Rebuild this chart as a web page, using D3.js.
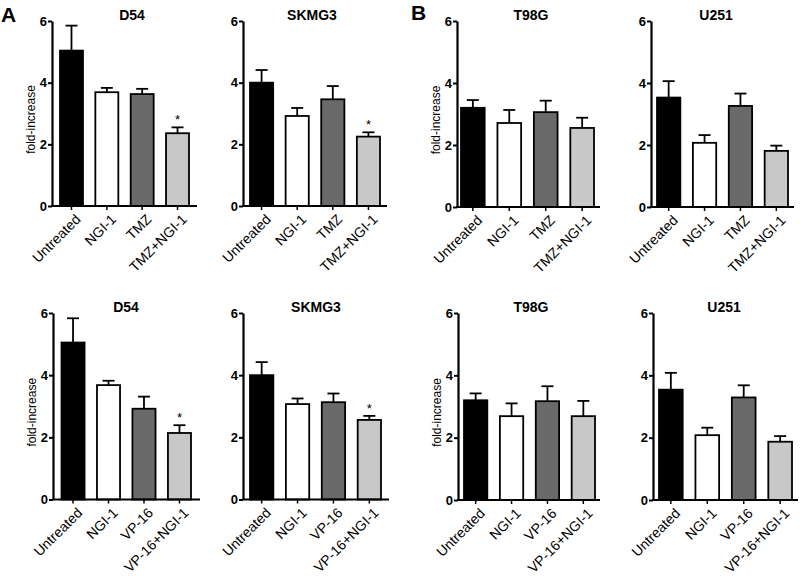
<!DOCTYPE html>
<html><head><meta charset="utf-8">
<script src="https://cdn.jsdelivr.net/npm/d3@7"></script>
<style>
body{margin:0;background:#fff}
text{font-family:"Liberation Sans",Arial,sans-serif}
</style></head>
<body><svg id="c" width="800" height="581"></svg>
<script>
// ---- data ----
const cellLines = ["D54", "SKMG3", "T98G", "U251"];
const categoriesTMZ = ["Untreated", "NGI-1", "TMZ", "TMZ+NGI-1"];
const categoriesVP = ["Untreated", "NGI-1", "VP-16", "VP-16+NGI-1"];
const yTicks = [0, 2, 4, 6];

const d54TMZ = [5.04, 3.69, 3.63, 2.36];
const d54TMZErr = [0.81, 0.14, 0.17, 0.19];
const skmg3TMZ = [4.00, 2.92, 3.46, 2.25];
const skmg3TMZErr = [0.41, 0.26, 0.43, 0.14];
const t98gTMZ = [3.20, 2.71, 3.06, 2.55];
const t98gTMZErr = [0.25, 0.42, 0.37, 0.33];
const u251TMZ = [3.53, 2.07, 3.26, 1.81];
const u251TMZErr = [0.53, 0.25, 0.40, 0.17];

const d54VP = [5.05, 3.68, 2.92, 2.14];
const d54VPErr = [0.78, 0.14, 0.39, 0.25];
const skmg3VP = [4.00, 3.07, 3.13, 2.56];
const skmg3VPErr = [0.42, 0.18, 0.28, 0.13];
const t98gVP = [3.20, 2.69, 3.17, 2.69];
const t98gVPErr = [0.22, 0.41, 0.48, 0.49];
const u251VP = [3.54, 2.08, 3.29, 1.87];
const u251VPErr = [0.54, 0.24, 0.39, 0.18];

const starsSig = [false, false, false, true];
const starsNone = [false, false, false, false];

const barColors = ["#000000", "#ffffff", "#6a6a6a", "#c8c8c8"];

// ---- layout ----
const panels = [
  {title: cellLines[0], cats: categoriesTMZ, vals: d54TMZ, err: d54TMZErr, sig: starsSig, ylab: true,
   ax: 52, b0: 60, b1: 189, ae: 197, yt: 21, yb: 206, tx: 132},
  {title: cellLines[1], cats: categoriesTMZ, vals: skmg3TMZ, err: skmg3TMZErr, sig: starsSig, ylab: false,
   ax: 243, b0: 250, b1: 380, ae: 387, yt: 21, yb: 206, tx: 312},
  {title: cellLines[2], cats: categoriesTMZ, vals: t98gTMZ, err: t98gTMZErr, sig: starsNone, ylab: true,
   ax: 457, b0: 461, b1: 594, ae: 600, yt: 21, yb: 207, tx: 531},
  {title: cellLines[3], cats: categoriesTMZ, vals: u251TMZ, err: u251TMZErr, sig: starsNone, ylab: false,
   ax: 651, b0: 657, b1: 788, ae: 794, yt: 21, yb: 207, tx: 716},
  {title: cellLines[0], cats: categoriesVP, vals: d54VP, err: d54VPErr, sig: starsSig, ylab: true,
   ax: 53, b0: 61.5, b1: 191, ae: 200, yt: 313, yb: 499.5, tx: 126},
  {title: cellLines[1], cats: categoriesVP, vals: skmg3VP, err: skmg3VPErr, sig: starsSig, ylab: false,
   ax: 243, b0: 250, b1: 381, ae: 389, yt: 313, yb: 499.5, tx: 316},
  {title: cellLines[2], cats: categoriesVP, vals: t98gVP, err: t98gVPErr, sig: starsNone, ylab: true,
   ax: 458, b0: 464, b1: 595, ae: 600, yt: 313, yb: 500, tx: 531},
  {title: cellLines[3], cats: categoriesVP, vals: u251VP, err: u251VPErr, sig: starsNone, ylab: false,
   ax: 653, b0: 659, b1: 792, ae: 798, yt: 313, yb: 500, tx: 724}
];

const svg = d3.select("#c");

svg.append("text").attr("x", 1).attr("y", 22).attr("font-size", 21).attr("font-weight", "bold").text("A");
svg.append("text").attr("x", 411).attr("y", 20).attr("font-size", 21).attr("font-weight", "bold").text("B");

panels.forEach(p => {
  const g = svg.append("g");
  const x = d3.scaleBand().domain(p.cats).range([p.b0, p.b1]).paddingInner(0.35).paddingOuter(0);
  const y = d3.scaleLinear().domain([0, 6]).range([p.yb, p.yt]);

  // bars
  g.selectAll("rect.bar").data(p.cats).join("rect")
    .attr("x", d => x(d)).attr("width", x.bandwidth())
    .attr("y", (d, i) => y(p.vals[i])).attr("height", (d, i) => y(0) - y(p.vals[i]))
    .attr("fill", (d, i) => barColors[i]).attr("stroke", "#000").attr("stroke-width", 1.8);

  // error bars (upper only)
  const cap = 6;
  p.cats.forEach((c, i) => {
    const cx = x(c) + x.bandwidth() / 2;
    const top = y(p.vals[i] + p.err[i]);
    g.append("line").attr("x1", cx).attr("x2", cx).attr("y1", y(p.vals[i])).attr("y2", top)
      .attr("stroke", "#000").attr("stroke-width", 1.8);
    g.append("line").attr("x1", cx - cap).attr("x2", cx + cap).attr("y1", top).attr("y2", top)
      .attr("stroke", "#000").attr("stroke-width", 1.8);
    if (p.sig[i]) {
      g.append("text").attr("x", cx).attr("y", top - 3).attr("text-anchor", "middle")
        .attr("font-size", 13).text("*");
    }
  });

  // y axis
  const ya = g.append("g").attr("transform", `translate(${p.ax},0)`)
    .call(d3.axisLeft(y).tickValues(yTicks).tickFormat(d3.format("d")).tickSize(4).tickPadding(1).tickSizeOuter(0));
  ya.select(".domain").attr("stroke-width", 2.2);
  ya.selectAll(".tick line").attr("stroke-width", 2);
  ya.selectAll(".tick text").attr("font-size", 13).attr("font-weight", "bold")
    .attr("font-family", "Liberation Sans, Arial, sans-serif");

  // x axis
  g.append("line").attr("x1", p.ax - 1).attr("x2", p.ae).attr("y1", y(0)).attr("y2", y(0))
    .attr("stroke", "#000").attr("stroke-width", 2.2);
  p.cats.forEach(c => {
    const cx = x(c) + x.bandwidth() / 2;
    g.append("line").attr("x1", cx).attr("x2", cx).attr("y1", y(0)).attr("y2", y(0) + 4)
      .attr("stroke", "#000").attr("stroke-width", 1.5);
    g.append("text").attr("transform", `translate(${cx + 3},${y(0) + 7}) rotate(-45)`)
      .attr("text-anchor", "end").attr("dy", "0.72em").attr("font-size", 14).text(c);
  });

  // title
  g.append("text").attr("x", p.tx).attr("y", p.yt - 1).attr("text-anchor", "middle")
    .attr("font-size", 14).attr("font-weight", "bold").text(p.title);

  // y label
  if (p.ylab) {
    g.append("text").attr("transform", `translate(${p.ax - 17},${(p.yt + p.yb) / 2 + 6}) rotate(-90)`)
      .attr("text-anchor", "middle").attr("font-size", 12).text("fold-increase");
  }
});
</script></body></html>
